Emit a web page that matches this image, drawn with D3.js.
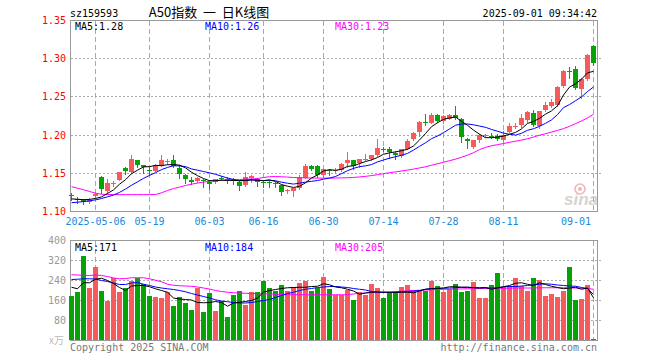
<!DOCTYPE html>
<html><head><meta charset="utf-8">
<script src="https://cdn.jsdelivr.net/npm/d3@7"></script>
<style>body{margin:0;background:#fff}svg{display:block}</style>
</head><body>
<svg id="c" width="660" height="360"></svg>
<script>
// ---------- DATA ----------
const dates = ["04-25","04-28","04-29","04-30",
 "05-06","05-07","05-08","05-09","05-12","05-13","05-14","05-15","05-16","05-19","05-20","05-21","05-22","05-23","05-26","05-27","05-28","05-29","05-30",
 "06-03","06-04","06-05","06-06","06-09","06-10","06-11","06-12","06-13","06-16","06-17","06-18","06-19","06-20","06-23","06-24","06-25","06-26","06-27","06-30",
 "07-01","07-02","07-03","07-04","07-07","07-08","07-09","07-10","07-11","07-14","07-15","07-16","07-17","07-18","07-21","07-22","07-23","07-24","07-25","07-28","07-29","07-30","07-31",
 "08-01","08-04","08-05","08-06","08-07","08-08","08-11","08-12","08-13","08-14","08-15","08-18","08-19","08-20","08-21","08-22","08-25","08-26","08-27","08-28","08-29",
 "09-01"];
const open = [1.121,1.117,1.115,1.112,1.120,1.1452,1.1267,1.1362,1.1416,1.157,
 1.1517,1.1671,1.1605,1.1548,1.153,1.1592,1.166,1.168,1.157,1.1474,
 1.1417,1.1395,1.1414,1.1386,1.139,1.1445,1.143,1.142,1.139,1.1342,
 1.1443,1.143,1.1392,1.139,1.1373,1.1342,1.1265,1.1268,1.131,1.1443,
 1.1592,1.1592,1.1474,1.1548,1.153,1.154,1.164,1.1671,1.163,1.1678,
 1.1684,1.1737,1.182,1.182,1.177,1.1725,1.1816,1.1945,1.2044,1.2172,
 1.2164,1.2263,1.218,1.2217,1.2263,1.2215,1.195,1.1846,1.1934,1.199,
 1.199,1.1991,1.1934,1.2044,1.2115,1.2132,1.2197,1.2294,1.2118,1.2329,
 1.2375,1.2395,1.2645,1.2838,1.2868,1.2601,1.273,1.3171];
const high = [1.124,1.119,1.116,1.118,1.1254,1.146,1.143,1.140,1.152,1.1583,
 1.1737,1.168,1.1615,1.1583,1.1627,1.1737,1.1693,1.1737,1.1605,1.1496,
 1.1452,1.1452,1.143,1.1417,1.143,1.146,1.1455,1.144,1.140,1.1518,
 1.1474,1.144,1.140,1.1395,1.139,1.135,1.129,1.131,1.1474,1.1618,
 1.1605,1.1605,1.157,1.1561,1.157,1.164,1.178,1.168,1.169,1.1759,
 1.1745,1.1947,1.1838,1.184,1.179,1.1816,1.1947,1.204,1.218,1.228,
 1.2295,1.2272,1.2263,1.2272,1.2382,1.2225,1.196,1.1938,1.201,1.2013,
 1.203,1.201,1.2057,1.2153,1.2153,1.2276,1.2316,1.2329,1.2316,1.2439,
 1.247,1.2645,1.2855,1.2886,1.2908,1.2745,1.3066,1.3184];
const low = [1.115,1.111,1.110,1.111,1.1188,1.124,1.123,1.133,1.141,1.1487,
 1.1504,1.158,1.1509,1.1473,1.153,1.1592,1.1618,1.1583,1.1443,1.1373,
 1.1364,1.1386,1.132,1.1298,1.137,1.141,1.137,1.136,1.1276,1.1333,
 1.1386,1.1333,1.132,1.132,1.132,1.121,1.124,1.1202,1.130,1.1443,
 1.154,1.1452,1.1452,1.1483,1.1505,1.153,1.1583,1.156,1.1583,1.167,
 1.168,1.1725,1.179,1.1706,1.1693,1.1715,1.1816,1.1935,1.199,1.2132,
 1.2155,1.2175,1.2158,1.221,1.221,1.1912,1.1835,1.1835,1.1912,1.198,
 1.196,1.193,1.1925,1.2035,1.209,1.211,1.2175,1.2118,1.2088,1.232,
 1.237,1.2386,1.2636,1.2746,1.2605,1.2482,1.2725,1.2921];
const close = [1.120,1.115,1.113,1.1145,1.1232,1.1298,1.1373,1.1368,1.1513,1.1526,
 1.1693,1.1605,1.1583,1.153,1.1605,1.168,1.1664,1.1592,1.1496,1.143,
 1.1386,1.1439,1.1408,1.1355,1.142,1.143,1.142,1.141,1.1333,1.1452,
 1.1461,1.1386,1.1386,1.1384,1.1355,1.1254,1.1276,1.1307,1.1452,1.1592,
 1.1562,1.1483,1.1561,1.154,1.1548,1.1627,1.168,1.1596,1.1684,1.1684,
 1.1737,1.1828,1.1814,1.1778,1.1745,1.1814,1.1921,1.203,1.217,1.2166,
 1.2265,1.218,1.225,1.2263,1.223,1.1978,1.1918,1.1934,1.2,1.2,
 1.1985,1.195,1.2,1.2118,1.212,1.2219,1.2307,1.2132,1.2316,1.2395,
 1.2435,1.2636,1.2842,1.2833,1.2614,1.2732,1.3053,1.2943];
const ma5 = [1.1165,1.116,1.1155,1.1158,1.1171,1.1191,1.1236,1.1283,1.1357,1.1416,
 1.1495,1.1541,1.1584,1.1587,1.1603,1.1601,1.1612,1.1614,1.1607,1.1572,
 1.1514,1.1469,1.1432,1.1404,1.1402,1.141,1.1407,1.1407,1.1403,1.1409,
 1.1415,1.1408,1.1404,1.1414,1.1394,1.1353,1.1331,1.1315,1.1329,1.1376,
 1.1438,1.1479,1.153,1.1548,1.1539,1.1552,1.1591,1.1598,1.1627,1.1654,
 1.1676,1.1706,1.1749,1.1768,1.178,1.1796,1.1814,1.1858,1.1936,1.202,
 1.211,1.2162,1.2206,1.2225,1.2238,1.218,1.2128,1.2065,1.2012,1.1966,
 1.1967,1.1974,1.1987,1.2011,1.2035,1.2081,1.2153,1.2179,1.2219,1.2274,
 1.2317,1.2383,1.2525,1.2628,1.2672,1.2731,1.2815,1.2835];
const ma10 = [1.1115,1.1122,1.113,1.114,1.1152,1.117,1.1192,1.1215,1.125,1.1294,
 1.1343,1.1388,1.1434,1.1472,1.1509,1.1548,1.1577,1.1599,1.1597,1.1588,
 1.1557,1.1541,1.1523,1.1506,1.1487,1.1462,1.1438,1.1419,1.1403,1.1405,
 1.1413,1.1408,1.1405,1.1408,1.1402,1.1384,1.137,1.1359,1.1371,1.1385,
 1.1395,1.1405,1.1423,1.1438,1.1458,1.1495,1.1535,1.1564,1.1587,1.1597,
 1.1614,1.1649,1.1674,1.1698,1.1717,1.1736,1.176,1.1804,1.1852,1.19,
 1.1953,1.1988,1.2032,1.208,1.2129,1.2145,1.2145,1.2135,1.2118,1.2102,
 1.2074,1.2051,1.2026,1.2011,1.2,1.2024,1.2063,1.2083,1.2115,1.2154,
 1.2199,1.2268,1.236,1.240,1.245,1.250,1.257,1.263];
const ma30 = [1.1325,1.1305,1.1285,1.1262,1.124,1.1226,1.1222,1.1221,1.1221,1.1221,
 1.1221,1.1221,1.1221,1.1221,1.1222,1.1245,1.1275,1.1300,1.132,1.134,
 1.1358,1.1372,1.1385,1.1395,1.1405,1.141,1.1413,1.1416,1.1418,1.1422,
 1.1426,1.1432,1.1445,1.1455,1.1458,1.1455,1.145,1.1445,1.1442,1.144,
 1.1438,1.1437,1.1437,1.1437,1.1438,1.144,1.1442,1.1446,1.1452,1.146,
 1.147,1.1482,1.1495,1.1508,1.1518,1.153,1.1542,1.1555,1.157,1.1585,
 1.1605,1.1625,1.1645,1.1665,1.1685,1.171,1.1737,1.177,1.181,1.184,
 1.186,1.1875,1.189,1.1905,1.192,1.1935,1.1952,1.1975,1.1998,1.2018,
 1.204,1.2062,1.2085,1.2115,1.215,1.2185,1.2225,1.2272];
const volume = [180,196,340,209,293,200,160,249,193,209,
 240,251,227,180,173,169,193,137,173,149,
 124,209,113,189,120,160,93,184,200,144,
 196,193,240,209,200,224,200,216,229,240,
 200,209,253,205,183,183,204,164,193,183,
 227,209,169,193,193,213,223,200,200,200,
 240,220,193,207,227,196,200,236,169,169,
 224,272,213,220,252,220,200,249,244,180,
 187,176,200,296,164,167,223,7];
const volMa5 = [213,207,231,231,245,249,240,228,212,200,
 218,220,220,215,207,200,193,170,166,164,
 162,152,151,152,156,152,137,150,153,156,
 160,170,193,200,204,208,211,212,213,213,
 216,217,227,223,214,211,205,198,185,190,
 193,194,193,193,193,193,193,191,198,205,
 207,208,210,215,215,213,213,211,210,212,
 205,210,215,220,229,231,225,220,231,224,
 217,212,207,210,213,205,210,171];
const volMa10 = [244,245,247,247,246,240,236,230,224,224,
 230,232,225,220,214,210,207,204,200,195,
 188,182,176,170,163,158,155,152,150,150,
 152,156,160,164,172,180,188,193,200,205,
 208,212,214,216,216,214,212,208,205,202,
 196,193,193,193,193,195,196,198,200,205,
 208,209,209,210,211,213,213,212,211,211,
 210,211,215,216,216,218,220,223,225,227,
 225,222,220,218,217,212,208,184];
const volMa30 = [263,262,261,260,262,260,256,250,247,248,
 251,251,251,247,241,235,225,221,219,218,
 217,214,210,206,200,196,193,191,190,189,
 188,187,187,186,185,184,183,183,183,183,
 183,183,183,183,183,183,183,186,189,190,
 192,193,193,193,195,197,199,200,201,202,
 203,204,205,205,206,206,207,207,208,208,
 208,209,209,209,210,210,210,210,211,211,
 211,211,211,211,210,209,208,205];
const priceTicks = [1.10,1.15,1.20,1.25,1.30,1.35];
const volTicks = [80,160,240,320,400];
const tickDays = ["05-06","05-19","06-03","06-16","06-30","07-14","07-28","08-11","09-01"];
const tickLabels = ["2025-05-06","05-19","06-03","06-16","06-30","07-14","07-28","08-11","09-01"];
const priceMaLabels = ["MA5:1.28","MA10:1.26","MA30:1.23"];
const volMaLabels = ["MA5:171","MA10:184","MA30:205"];

// ---------- DRAW ----------
const svg = d3.select('#c');
const mono = '"DejaVu Sans Mono","Liberation Mono",monospace';
const UP = '#f65a5a', DOWN = '#06a306';
const L = 70.5, R = 597.5, PT = 20.5, PB = 211.5, VT = 240.5, VB = 340.5;
const x = d3.scaleBand().domain(dates).range([68, 596]).padding(0);
const xc = d => x(d) + 3.5;
const y = d3.scaleLinear().domain([1.10, 1.35]).range([PB, PT]);
const yv = d3.scaleLinear().domain([0, 400]).range([VB, VT]);
const crisp = v => Math.round(v - 0.5) + 0.5;

const rows = dates.map((d, i) => ({d, i, o: open[i], h: high[i], l: low[i], c: close[i], v: volume[i]}));

// watermark
const wm = svg.append('g');
wm.append('circle').attr('cx', 580).attr('cy', 189).attr('r', 5).attr('fill', 'none').attr('stroke', '#f2b5b5').attr('stroke-width', 1.6);
wm.append('circle').attr('cx', 580).attr('cy', 189).attr('r', 2).attr('fill', '#f2b5b5');
wm.append('text').attr('x', 564).attr('y', 205).text('sina')
  .attr('font-family', '"Liberation Sans",Arial,sans-serif').attr('font-size', 17)
  .attr('font-weight', 'bold').attr('font-style', 'italic').attr('fill', '#d9d2d2');

// grid
const grid = svg.append('g').attr('stroke', '#aaa').attr('stroke-width', 1).attr('shape-rendering', 'crispEdges');
priceTicks.filter(t => t > 1.10 && t < 1.35).forEach(t => {
  grid.append('line').attr('x1', L).attr('x2', R + 3).attr('y1', crisp(y(t))).attr('y2', crisp(y(t))).attr('stroke-dasharray', '2,2');
});
volTicks.filter(t => t < 400).forEach(t => {
  grid.append('line').attr('x1', L).attr('x2', R + 3).attr('y1', crisp(yv(t))).attr('y2', crisp(yv(t))).attr('stroke-dasharray', '2,2');
});
tickDays.forEach(d => {
  const gx = crisp(xc(d));
  grid.append('line').attr('x1', gx).attr('x2', gx).attr('y1', PT).attr('y2', PB).attr('stroke-dasharray', '5,3');
  grid.append('line').attr('x1', gx).attr('x2', gx).attr('y1', VT).attr('y2', VB).attr('stroke-dasharray', '5,3');
});

// borders
const bd = svg.append('g').attr('fill', 'none').attr('stroke', '#999').attr('shape-rendering', 'crispEdges');
bd.append('rect').attr('x', L).attr('y', PT).attr('width', R - L).attr('height', PB - PT);
bd.append('rect').attr('x', L).attr('y', VT).attr('width', R - L).attr('height', VB - VT);

// candles
const cg = svg.append('g').attr('shape-rendering', 'crispEdges');
rows.forEach(r => {
  const col = r.c >= r.o ? UP : DOWN;
  cg.append('line').attr('x1', xc(r.d)).attr('x2', xc(r.d))
    .attr('y1', Math.round(y(r.h))).attr('y2', Math.round(y(r.l)) + 1).attr('stroke', col);
  const t = Math.round(y(Math.max(r.o, r.c))), b = Math.round(y(Math.min(r.o, r.c)));
  cg.append('rect').attr('x', x(r.d) + 1).attr('width', 5)
    .attr('y', t).attr('height', Math.max(1, b - t)).attr('fill', col);
});

// volume bars
const vg = svg.append('g').attr('shape-rendering', 'crispEdges');
rows.forEach(r => {
  const col = r.c >= r.o ? UP : DOWN;
  const t = Math.round(yv(r.v));
  vg.append('rect').attr('x', x(r.d) + 1).attr('width', 5)
    .attr('y', t).attr('height', Math.max(1, 340 - t)).attr('fill', col);
});

// MA lines
function maLine(arr, scale, color) {
  const ln = d3.line().x((d, i) => xc(dates[i])).y(d => scale(d));
  svg.append('path').attr('d', ln(arr)).attr('fill', 'none').attr('stroke', color).attr('stroke-width', 1);
}
maLine(ma30, y, '#ff00ff');
maLine(ma10, y, '#0000ff');
maLine(ma5, y, '#000000');
maLine(volMa30, yv, '#ff00ff');
maLine(volMa10, yv, '#0000ff');
maLine(volMa5, yv, '#000000');

// texts
const txt = (s, xx, yy, opt = {}) => svg.append('text').attr('x', xx).attr('y', yy).text(s)
  .attr('font-family', opt.font || mono).attr('font-size', opt.size || 10)
  .attr('fill', opt.fill || '#000').attr('text-anchor', opt.anchor || 'start')
  .attr('xml:space', 'preserve');

txt('sz159593', 70, 16.5);
txt('A50指数  一  日K线图', 209, 16.5, {font: '"Noto Sans CJK SC","Noto Sans",sans-serif', size: 13, anchor: 'middle'});
txt('2025-09-01 09:34:42', 597, 16.5, {anchor: 'end'});

const maCols = ['#000', '#0000ff', '#ff00ff'], maX = [75, 205, 335];
priceMaLabels.forEach((s, i) => txt(s, maX[i], 29.5, {fill: maCols[i]}));
volMaLabels.forEach((s, i) => txt(s, maX[i], 250.5, {fill: maCols[i]}));

priceTicks.forEach(t => txt(t.toFixed(2), 66, y(t) + 3.5, {anchor: 'end', fill: '#f00'}));
volTicks.forEach(t => txt(String(t), 66, yv(t) + 3.5, {anchor: 'end', fill: '#999'}));
txt('x万', 64, 343.5, {anchor: 'end', fill: '#bbb', font: '"Noto Sans CJK SC",sans-serif', size: 10});

tickDays.forEach((d, i) => {
  const s = tickLabels[i];
  const w = s.length * 6.02;
  let cx = xc(d);
  if (cx + w / 2 > 591) cx = 591 - w / 2;
  txt(s, cx, 224.5, {anchor: 'middle', fill: '#1a88dc'});
});

txt('Copyright 2025 SINA.COM', 70, 350.5, {fill: '#777'});
txt('http://finance.sina.com.cn', 597, 350.5, {fill: '#777', anchor: 'end'});
</script>
</body></html>
